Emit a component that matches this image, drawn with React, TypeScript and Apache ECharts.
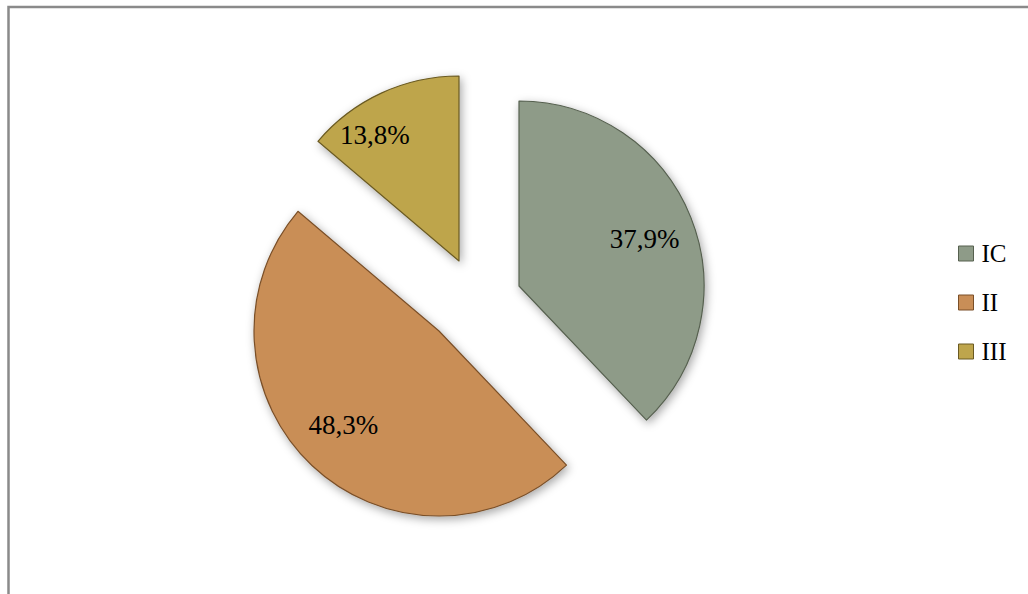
import React, { useEffect, useRef } from "react";
import * as echarts from "echarts";

// ---- data ----
const categories = ["IC", "II", "III"];
const values = [37.9, 48.3, 13.8];

// ---- styles / layout ----
const fills = ["#8e9b88", "#c98e57", "#bea54c"];
const edges = ["#56604f", "#7a4f28", "#6a5a22"];
const sliceCenters = [
  [519, 286],
  [439, 331],
  [459, 261],
];
const RADIUS = 185;
const labelShift = [
  [37, -12],
  [-30, 25],
  [-44, -39],
];
const SERIF = "'Liberation Serif', 'DejaVu Serif', serif";

const fmt = (v: number) => v.toFixed(1).replace(".", ",") + "%";

export default function App() {
  const ref = useRef<HTMLDivElement>(null);
  useEffect(() => {
    if (!ref.current) return;
    const chart = echarts.init(ref.current, undefined, { renderer: "svg" });
    const total = values.reduce((a, b) => a + b, 0);
    let cum = 0;
    const series = values.map((v, i) => {
      const start = 90 - (cum / total) * 360;
      cum += v;
      const shift = labelShift[i];
      return {
        type: "pie",
        center: sliceCenters[i],
        radius: [0, RADIUS],
        startAngle: start,
        clockwise: true,
        silent: true,
        emphasis: { disabled: true },
        labelLine: { show: false },
        label: {
          show: true,
          position: "inside",
          formatter: (p: any) => fmt(p.value),
          fontFamily: SERIF,
          fontSize: 27,
          color: "#000",
        },
        labelLayout: () => ({ dx: shift[0], dy: shift[1] }),
        data: [
          {
            name: categories[i],
            value: v,
            itemStyle: {
              color: fills[i],
              borderColor: edges[i],
              borderWidth: 1.2,
              shadowBlur: 10,
              shadowColor: "rgba(0,0,0,0.35)",
              shadowOffsetX: 2,
              shadowOffsetY: 3,
            },
          },
          {
            name: "__rest" + i,
            value: total - v,
            itemStyle: {
              color: "transparent",
              borderWidth: 0,
              shadowBlur: 0,
              shadowColor: "transparent",
            },
            label: { show: false },
          },
        ],
      };
    });

    chart.setOption({
      animation: false,
      backgroundColor: "#ffffff",
      graphic: [
        {
          type: "rect",
          shape: { x: 8.5, y: 7, width: 1200, height: 800 },
          style: { fill: "none", stroke: "#8a8a8a", lineWidth: 2.5 },
          silent: true,
        },
      ],
      legend: {
        data: categories.map((c, i) => ({
          name: c,
          itemStyle: { color: fills[i], borderColor: edges[i], borderWidth: 1 },
        })),
        orient: "vertical",
        left: 958,
        top: 241,
        padding: 0,
        icon: "rect",
        itemWidth: 15,
        itemHeight: 15,
        itemGap: 24,
        selectedMode: false,
        textStyle: {
          fontFamily: SERIF,
          fontSize: 25,
          lineHeight: 25,
          color: "#000",
          padding: [0, 0, 0, 3],
        },
      },
      series,
    });
    return () => chart.dispose();
  }, []);
  return (
    <div
      ref={ref}
      style={{ position: "absolute", left: 0, top: 0, width: 1028, height: 594 }}
    />
  );
}
